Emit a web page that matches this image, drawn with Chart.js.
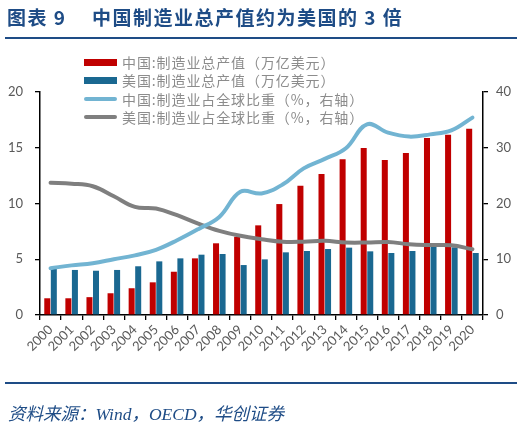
<!DOCTYPE html>
<html>
<head>
<meta charset="utf-8">
<script src="https://cdn.jsdelivr.net/npm/chart.js"></script>
<style>
    body { margin: 0; background: #fff; }
    #wrap { position: relative; width: 524px; height: 430px; overflow: hidden; }
    #chart { position: absolute; left: 0; top: 0; }
    .title { position: absolute; top: 3px; font-family: "Noto Sans CJK SC"; font-weight: bold; font-size: 19px; color: #1e4c86; letter-spacing: 1.5px; white-space: nowrap; }
    .rule { position: absolute; left: 5px; width: 512px; height: 2px; background: #1e4c86; }
    .source { position: absolute; left: 8px; top: 400px; font-family: "Liberation Serif", "Noto Sans CJK SC"; font-style: italic; font-size: 17.5px; color: #1e4c86; white-space: nowrap; }
    .legend { position: absolute; left: 0; top: 0; font-family: "Noto Sans CJK SC"; font-size: 14px; color: #8c8c8c; letter-spacing: 0.9px; }
    .row { position: absolute; left: 84px; height: 18px; white-space: nowrap; }
    .sym { position: absolute; left: 0; width: 33px; }
    .row span { position: absolute; left: 38px; top: 0; line-height: 18px; }
</style>
</head>
<body>
<div id="wrap">
    <canvas id="chart" width="524" height="430"></canvas>
    <div class="title" style="left:7px;">图表 9</div>
    <div class="title" style="left:92px;">中国制造业总产值约为美国的 3 倍</div>
    <div class="rule" style="top:37px;"></div>
    <div class="rule" style="top:382px;"></div>
    <div class="source">资料来源：Wind，OECD，华创证券</div>
    <div class="legend" id="legend"></div>
</div>
<script>
// years on the x axis
const years = ['2000', '2001', '2002', '2003', '2004', '2005', '2006', '2007', '2008', '2009', '2010',
    '2011', '2012', '2013', '2014', '2015', '2016', '2017', '2018', '2019', '2020'];

// manufacturing output, trillion USD (left axis)
const chinaOutput = [1.5, 1.5, 1.6, 1.95, 2.4, 2.93, 3.88, 5.08, 6.43, 7.02, 8.04,
    9.95, 11.6, 12.65, 13.96, 14.98, 13.9, 14.53, 15.87, 16.17, 16.71];
const usOutput = [4.19, 4.04, 3.97, 4.04, 4.37, 4.81, 5.08, 5.41, 5.47, 4.48, 4.99,
    5.62, 5.74, 5.92, 6.04, 5.71, 5.56, 5.74, 6.13, 6.07, 5.56];

// share of global manufacturing, % (right axis)
const chinaShare = [8.4, 8.9, 9.3, 10.0, 10.7, 11.7, 13.4, 15.4, 17.6, 22.1, 21.8,
    23.4, 26.3, 28.0, 29.9, 34.2, 32.7, 32.0, 32.4, 33.1, 35.4];
const usShare = [23.7, 23.55, 23.1, 21.3, 19.4, 19.1, 17.9, 16.4, 15.1, 14.2, 13.6,
    13.15, 13.15, 13.3, 13.0, 13.0, 13.1, 12.7, 12.55, 12.5, 11.8];

// axis ticks
const leftTicks = [0, 5, 10, 15, 20];
const rightTicks = [0, 10, 20, 30, 40];

const labels = ['中国:制造业总产值（万亿美元）', '美国:制造业总产值（万亿美元）',
    '中国:制造业占全球比重（%，右轴）', '美国:制造业占全球比重（%，右轴）'];
const colors = ['#c00000', '#1a6891', '#72b4d2', '#7f7f7f'];

// legend sits over the top of the plot, drawn as html
const legend = document.getElementById('legend');
const rowTops = [53, 71, 90, 108];
labels.forEach(function(text, i) {
    const row = document.createElement('div');
    row.className = 'row';
    row.style.top = rowTops[i] + 'px';
    const isLine = i > 1;
    row.innerHTML = `
        <div class="sym" style="top:${isLine ? 7 : 5.5}px; height:${isLine ? 4 : 7}px; background:${colors[i]}; border-radius:${isLine ? 2 : 0}px;"></div>
        <span>${text}</span>
    `;
    legend.appendChild(row);
});

const tickFont = { family: 'Lato', size: 13 };
const tickColor = '#595959';

new Chart(document.getElementById('chart'), {
    type: 'bar',
    data: {
        labels: years,
        datasets: [{
            type: 'line',
            label: labels[2],
            data: chinaShare,
            yAxisID: 'y1',
            borderColor: colors[2],
            borderWidth: 4,
            pointRadius: 0,
            tension: 0.4,
            borderCapStyle: 'round',
            order: 0
        }, {
            type: 'line',
            label: labels[3],
            data: usShare,
            yAxisID: 'y1',
            borderColor: colors[3],
            borderWidth: 4,
            pointRadius: 0,
            tension: 0.4,
            borderCapStyle: 'round',
            order: 0
        }, {
            label: labels[0],
            data: chinaOutput,
            yAxisID: 'y',
            backgroundColor: colors[0],
            categoryPercentage: 0.62,
            barPercentage: 0.92,
            order: 1
        }, {
            label: labels[1],
            data: usOutput,
            yAxisID: 'y',
            backgroundColor: colors[1],
            categoryPercentage: 0.62,
            barPercentage: 0.92,
            order: 1
        }]
    },
    options: {
        responsive: false,
        animation: false,
        layout: { padding: { top: 92, left: 0, right: 0, bottom: 0 } },
        plugins: { legend: { display: false }, tooltip: { enabled: false } },
        scales: {
            x: {
                offset: true,
                grid: { offset: true, drawOnChartArea: false, drawTicks: true, tickLength: 5, color: '#000', lineWidth: 1.3 },
                border: { color: '#000', width: 1.5 },
                ticks: { font: tickFont, color: tickColor, minRotation: 45, maxRotation: 45, autoSkip: false, padding: 2 },
                afterFit: function(scale) { scale.height = 115; }
            },
            y: {
                position: 'left',
                min: 0,
                max: 20,
                afterBuildTicks: function(scale) { scale.ticks = leftTicks.map(v => ({ value: v })); },
                grid: { drawOnChartArea: false, drawTicks: true, tickLength: 5, color: '#000', lineWidth: 1.3 },
                border: { color: '#000', width: 1.5 },
                ticks: { font: tickFont, color: tickColor, padding: 12 },
                afterFit: function(scale) { scale.width = 40; }
            },
            y1: {
                position: 'right',
                min: 0,
                max: 40,
                afterBuildTicks: function(scale) { scale.ticks = rightTicks.map(v => ({ value: v })); },
                grid: { drawOnChartArea: false, drawTicks: true, tickLength: 5, color: '#000', lineWidth: 1.3 },
                border: { color: '#000', width: 1.5 },
                ticks: { font: tickFont, color: tickColor, padding: 8 },
                afterFit: function(scale) { scale.width = 41; }
            }
        }
    }
});
</script>
</body>
</html>
